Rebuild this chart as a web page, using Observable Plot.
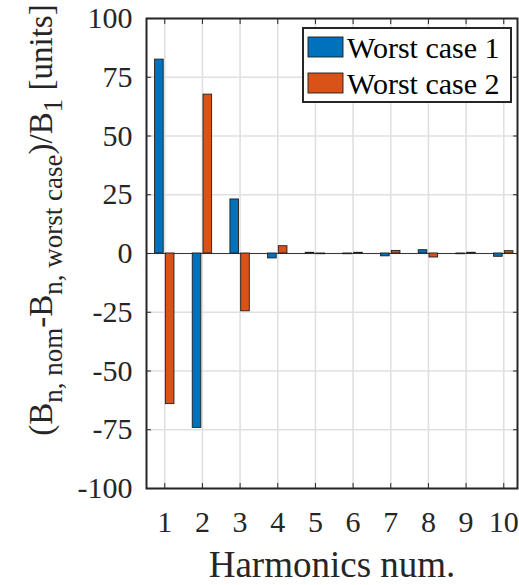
<!DOCTYPE html>
<html>
<head>
<meta charset="utf-8">
<script src="https://cdn.jsdelivr.net/npm/d3@7"></script>
<script src="https://cdn.jsdelivr.net/npm/@observablehq/plot@0.6"></script>
<style>
  html, body { margin: 0; padding: 0; background: #fff; }
  #chart { width: 519px; height: 585px; }
</style>
</head>
<body>
<div id="chart"></div>
<script>
// Harmonic deviations of the two worst cases, in units of B1
const harmonics = [1, 2, 3, 4, 5, 6, 7, 8, 9, 10];
const seriesNames = ["Worst case 1", "Worst case 2"];
const worstCase1 = [82.5, -74.2, 23.0, -2.1, 0.3, -0.3, -1.2, 1.4, -0.3, -1.4];
const worstCase2 = [-64.1, 67.6, -24.6, 3.1, -0.3, 0.3, 1.1, -1.7, 0.3, 1.0];
const yTicks = [-100, -75, -50, -25, 0, 25, 50, 75, 100];
const seriesColors = ["#0072BD", "#D95319"];

// grouped-bar geometry (MATLAB style): group width and per-bar width in x units
const nSeries = seriesNames.length;
const groupWidth = Math.min(0.8, nSeries / (nSeries + 1.5));
const barWidth = groupWidth / nSeries * 0.8;

const seriesValues = [worstCase1, worstCase2];
const rows = seriesNames.flatMap((name, s) =>
  harmonics.map((h, i) => ({
    harmonic: h,
    series: name,
    value: seriesValues[s][i],
    center: h + (s - (nSeries - 1) / 2) * groupWidth / nSeries
  }))
);

const serif = "'Liberation Serif', 'Times New Roman', serif";
const ink = "#262626";

const chart = Plot.plot({
  width: 519,
  height: 585,
  marginLeft: 146,
  marginRight: 2,
  marginTop: 18,
  marginBottom: 97,
  style: { fontSize: "30px", color: ink, background: "#fff", overflow: "visible" },
  x: { type: "linear", domain: [0.515, 10.365], label: null },
  y: { domain: [-100, 100], label: null },
  color: { domain: seriesNames, range: seriesColors },
  marks: [
    Plot.gridX(harmonics, { stroke: "#e0e0e0", strokeWidth: 1.6, strokeOpacity: 1 }),
    Plot.gridY(yTicks, { stroke: "#e0e0e0", strokeWidth: 1.6, strokeOpacity: 1 }),
    Plot.ruleY([0], { stroke: "#3a3a3a", strokeWidth: 1 }),
    Plot.rect(rows, {
      x1: d => d.center - barWidth / 2,
      x2: d => d.center + barWidth / 2,
      y1: 0,
      y2: "value",
      fill: "series",
      stroke: "#1e1e1e",
      strokeWidth: 0.9
    }),
    // tick labels
    Plot.axisX(harmonics, { anchor: "bottom", tickSize: 0, tickPadding: 22, fontSize: 30, tickFormat: d => String(d) }),
    Plot.axisY(yTicks, { anchor: "left", tickSize: 0, tickPadding: 14, fontSize: 30, tickFormat: d => String(d) }),
    // inward ticks on all four sides
    Plot.axisX(harmonics, { anchor: "bottom", tickSize: 5, dy: -5, tickFormat: () => "", stroke: ink }),
    Plot.axisX(harmonics, { anchor: "top", tickSize: 5, dy: 5, tickFormat: () => "", stroke: ink }),
    Plot.axisY(yTicks, { anchor: "left", tickSize: 5, dx: 5, tickFormat: () => "", stroke: ink }),
    Plot.axisY(yTicks, { anchor: "right", tickSize: 5, dx: -5, tickFormat: () => "", stroke: ink }),
    Plot.frame({ stroke: ink, strokeWidth: 2 }),
    // x-axis title
    Plot.text(["Harmonics num."], {
      text: d => d,
      frameAnchor: "bottom",
      lineAnchor: "middle",
      dy: 77,
      fontSize: 37,
      fill: ink
    })
  ]
});

const svg = d3.select(chart);
// serif face for the whole figure
svg.attr("font-family", serif);
svg.selectAll("g").attr("font-family", serif);

// y-axis title with subscripts
const yPieces = [
  { t: "(B", sub: false },
  { t: "n, nom", sub: true },
  { t: "-B", sub: false },
  { t: "n, worst case", sub: true },
  { t: ")/B", sub: false },
  { t: "1", sub: true },
  { t: " [units]", sub: false }
];
const yTitle = svg.append("g").attr("font-family", serif).append("text")
  .attr("transform", "translate(52,220) rotate(-90)")
  .attr("text-anchor", "middle")
  .attr("font-size", 33)
  .attr("fill", ink);
let shifted = false;
for (const p of yPieces) {
  const ts = yTitle.append("tspan").text(p.t);
  if (p.sub && !shifted) { ts.attr("dy", 10).attr("font-size", 27); shifted = true; }
  else if (p.sub) { ts.attr("font-size", 27); }
  else if (shifted) { ts.attr("dy", -10); shifted = false; }
}

// legend box in the upper right corner
const color = chart.scale("color");
const legend = svg.append("g")
  .attr("font-family", serif)
  .attr("font-size", 30)
  .attr("text-anchor", "start");
legend.append("rect")
  .attr("x", 303).attr("y", 28).attr("width", 208).attr("height", 74)
  .attr("fill", "#fff").attr("stroke", ink).attr("stroke-width", 2);
seriesNames.forEach((name, i) => {
  const y0 = 37 + i * 36;
  legend.append("rect")
    .attr("x", 308).attr("y", y0).attr("width", 35).attr("height", 20)
    .attr("fill", color.apply(name)).attr("stroke", "#1e1e1e").attr("stroke-width", 0.9);
  legend.append("text")
    .attr("x", 347).attr("y", y0 + 21)
    .attr("fill", "#000")
    .text(name);
});

document.getElementById("chart").appendChild(chart);
</script>
</body>
</html>
